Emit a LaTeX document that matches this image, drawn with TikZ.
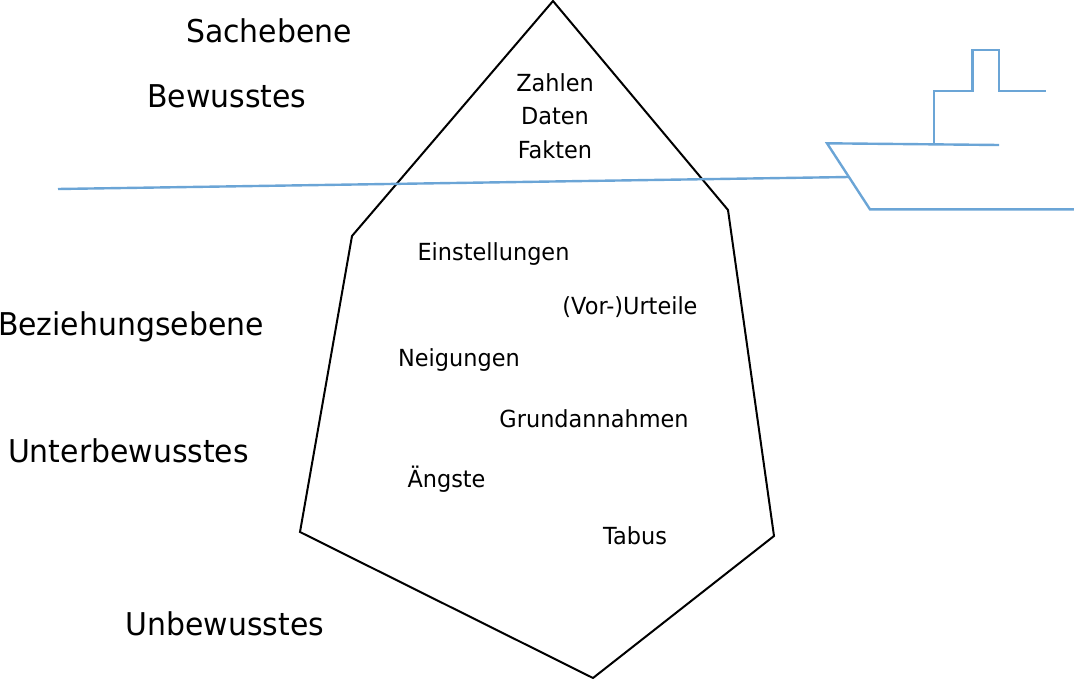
\documentclass[tikz,border=0pt]{standalone}
\usepackage{fontspec}
\setmainfont{DejaVu Sans}
\definecolor{shipblue}{HTML}{6BA5D6}
\newcommand{\tallbig}[1]{\scalebox{1}[1.05]{#1}}
\tikzset{
  x=1pt,y=-1pt,
  big/.style={font=\fontsize{29.9}{34}\selectfont,inner sep=0pt,anchor=base},
  small/.style={font=\fontsize{22.4}{26}\selectfont,inner sep=0pt,anchor=base},
  berg/.style={draw=black,line width=2pt,line join=miter},
  ship/.style={draw=shipblue,line width=2.4pt,line join=miter}
}
\begin{document}
\begin{tikzpicture}
\useasboundingbox (0,0) rectangle (1074,679);
% iceberg
\coordinate (b1) at (553,1);
\coordinate (b2) at (728,210);
\coordinate (b3) at (774,536);
\coordinate (b4) at (593,678);
\coordinate (b5) at (300,532);
\coordinate (b6) at (352,236);
\draw[berg] (b1) -- (b2) -- (b3) -- (b4) -- (b5) -- (b6) -- cycle;
% water line
\coordinate (w1) at (58,189);
\coordinate (w2) at (849,177);
\draw[ship] (w1) -- (w2);
% ship
\coordinate (h1) at (827,143.3);
\coordinate (h2) at (870,209.4);
\coordinate (h3) at (1074,209.4);
\coordinate (d1) at (999,145);
\coordinate (f0) at (934,144.3);
\coordinate (f1) at (934,91.3);
\coordinate (f2) at (972.6,91.3);
\coordinate (f3) at (972.6,50);
\coordinate (f4) at (999.2,50);
\coordinate (f5) at (999.2,91.3);
\coordinate (f6) at (1046,91.3);
\draw[ship] (d1) -- (h1) -- (h2) -- (h3);
\draw[ship] (f0) -- (f1) -- (f2) -- (f3) -- (f4) -- (f5) -- (f6);
% labels
\node[big] (sach) at (269,43) {\tallbig{Sachebene}};
\node[big] (bew) at (227,107.7) {\tallbig{Bewusstes}};
\node[big] (bez) at (131,335) {\tallbig{Beziehungsebene}};
\node[big] (unter) at (128.5,462) {\tallbig{Unterbewusstes}};
\node[big] (unb) at (225,635) {\tallbig{Unbewusstes}};
\node[small] (zahlen) at (555,91.5) {\tallbig{Zahlen}};
\node[small] (daten) at (555,125) {\tallbig{Daten}};
\node[small] (fakten) at (555,158.3) {\tallbig{Fakten}};
\node[small] (einst) at (493.5,261) {\tallbig{Einstellungen}};
\node[small] (vor) at (630,314) {\tallbig{(Vor-)Urteile}};
\node[small] (neig) at (459,366) {\tallbig{Neigungen}};
\node[small] (grund) at (594,427) {\tallbig{Grundannahmen}};
\node[small] (aengste) at (446.5,487) {\tallbig{Ängste}};
\node[small] (tabus) at (635,544) {\tallbig{Tabus}};
\end{tikzpicture}
\end{document}
